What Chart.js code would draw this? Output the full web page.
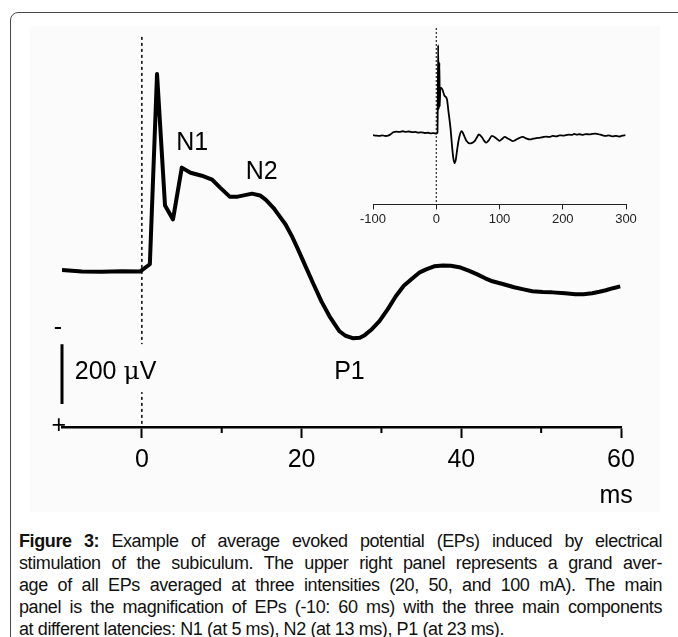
<!DOCTYPE html>
<html>
<head>
<meta charset="utf-8">
<script src="https://cdn.jsdelivr.net/npm/chart.js@4.4.1/dist/chart.umd.min.js"></script>
<style>
body { margin: 0; background: #fff; font-family: "Liberation Sans", Arial, sans-serif; }
#frame { position: absolute; left: 10px; top: 12px; width: 760px; height: 760px; border: 1.5px solid #4a4a4a; border-radius: 8px 0 0 0; }
#panel { position: absolute; left: 30px; top: 26px; width: 630px; height: 486px; background: #fbfbfb; }
#main { position: absolute; left: 0; top: 0; }
#inset { position: absolute; left: 340px; top: 0; }
#cap { position: absolute; left: 19px; top: 530px; width: 643px; font-size: 18px; letter-spacing: -0.4px; line-height: 22px; color: #111; }
#cap div { text-align: justify; text-align-last: justify; white-space: nowrap; }
#cap div.last { text-align-last: left; }
</style>
</head>
<body>
<div id="frame"></div>
<div id="panel"></div>
<canvas id="main" width="678" height="520"></canvas>
<canvas id="inset" width="320" height="240"></canvas>
<div id="cap">
<div><b>Figure 3:</b> Example of average evoked potential (EPs) induced by electrical</div>
<div>stimulation of the subiculum. The upper right panel represents a grand aver-</div>
<div>age of all EPs averaged at three intensities (20, 50, and 100 mA). The main</div>
<div>panel is the magnification of EPs (-10: 60 ms) with the three main components</div>
<div class="last">at different latencies: N1 (at 5 ms), N2 (at 13 ms), P1 (at 23 ms).</div>
</div>
<script>
Chart.defaults.font.family = '"Liberation Sans", Arial, sans-serif'
Chart.defaults.color = '#000'

// main panel: -10..60 ms, amplitude in µV (negative up)
const mainMs = [-10, -7.5, -5, -2.5, -0.2, 1.0, 1.9, 2.9, 3.9, 5.0, 6.1, 7.5, 8.8, 9.8, 11.0, 12.0,
  13.8, 14.8, 15.5, 16.5, 17.1, 18.0, 18.8, 19.5, 20.5, 21.5, 22.5, 23.5, 24.75, 25.5, 26.4, 27.3,
  27.9, 28.8, 29.75, 30.8, 31.8, 32.8, 33.9, 34.8, 35.6, 36.6, 37.7, 38.7, 39.75, 41, 42, 43, 43.9,
  45.3, 46.6, 47.8, 48.9, 50.2, 51.4, 53, 54.3, 55.3, 56.4, 57.3, 58.1, 59, 59.9]
const mainUv = [2, 7, 8, 6, 7, -17, -653, -213, -167, -340, -323, -313, -300, -273, -243, -243,
  -253, -247, -233, -205, -183, -150, -110, -70, -10, 50, 108, 157, 207, 222, 230, 229,
  220, 200, 173, 133, 90, 55, 30, 10, 0, -10, -13, -12, -7, 5, 17, 30, 40,
  50, 60, 67, 73, 76, 77, 80, 83, 83, 80, 75, 70, 63, 57]

// inset: grand average -100..300 ms
const insetMs = [-100, -95, -90, -85, -80, -75, -72, -68, -63, -58, -53, -48, -43, -38, -33, -28,
  -23, -18, -13, -8, -4, 0, 2, 3, 4, 5, 5.5, 6.5, 9.5, 13, 16.8, 19.4, 22.6, 25.3, 27, 29, 31, 32.7,
  35.9, 40, 44.8, 48, 52.7, 56, 60.6, 64, 67.5, 72.8, 76, 79.1, 83, 88, 95, 100, 104, 108, 113, 117,
  121, 125, 130, 137, 142, 148, 153, 158, 163, 168, 174, 179, 184, 190, 195, 200, 205, 210, 215,
  218, 222, 227, 232, 237, 242, 247, 252, 257, 262, 268, 273, 278, 284, 289, 294, 299]
const insetUv = [12, 15, 17, 14, 18, 13, 5, -10, -14, -12, -17, -13, -15, -10, -12, -7,
  -9, -4, -6, -2, -3, 0, -5, -650, -180, -520, -200, -338, -326, -278, -254, -159, -36, 109, 180, 217, 190, 130,
  36, -17, 24, 55, 72, 70, 56, 30, 7, 31, 55, 67, 50, 17, 36, 53, 40, 24, 36, 45,
  56, 48, 35, 24, 35, 43, 38, 33, 31, 27, 22, 25, 17, 20, 13, 15, 12, 8, 10,
  2, 8, 5, 9, 4, 6, 2, 0, 5, 12, 17, 14, 20, 17, 22, 15, 12]

const mainTicks = [0, 20, 40, 60]
const minorTicks = [10, 30, 50]
const stimMs = 0
const scaleBarUv = [250, 450]   // 200 µV bar

const pts = (xs, ys) => xs.map((x, i) => ({ x, y: ys[i] }))
const panelBg = '#fbfbfb'
const font25 = '25px "Liberation Sans", Arial, sans-serif'

const labelsPlugin = {
  id: 'labels',
  afterDatasetsDraw(chart) {
    const c = chart.ctx, x = chart.scales.x, y = chart.scales.y, bottom = chart.chartArea.bottom
    c.save()
    // minor ticks
    c.strokeStyle = '#000'; c.lineWidth = 2
    minorTicks.forEach(v => {
      const px = x.getPixelForValue(v)
      c.beginPath(); c.moveTo(px, bottom); c.lineTo(px, bottom + 6); c.stroke()
    })
    c.font = font25; c.textBaseline = 'middle'
    // box behind scale label hides the stimulus line
    c.fillStyle = panelBg
    c.fillRect(x.getPixelForValue(-8.8), y.getPixelForValue(250), 95, 48)
    c.fillStyle = '#000'
    c.textAlign = 'left'
    const sx = x.getPixelForValue(-8.4), sy = y.getPixelForValue(345)
    c.fillText('200 ', sx, sy)
    const w = c.measureText('200 ').width
    c.font = '25px "DejaVu Serif", "Liberation Serif", serif'
    c.fillText('μ', sx + w, sy)
    const w2 = c.measureText('μ').width
    c.font = font25
    c.fillText('V', sx + w + w2, sy)
    c.textAlign = 'center'
    c.fillText('N1', x.getPixelForValue(6.3), y.getPixelForValue(-423))
    c.fillText('N2', x.getPixelForValue(15), y.getPixelForValue(-326))
    c.fillText('P1', x.getPixelForValue(26), y.getPixelForValue(343))
    c.fillText('-', x.getPixelForValue(-10.5), y.getPixelForValue(196))
    c.fillText('+', x.getPixelForValue(-10.4), y.getPixelForValue(525))
    c.fillText('ms', x.getPixelForValue(59.4), bottom + 69)
    c.restore()
  }
}

new Chart(document.getElementById('main'), {
  type: 'line',
  data: {
    datasets: [
      { data: pts(mainMs, mainUv), borderColor: '#000', borderWidth: 4, pointRadius: 0, tension: 0, borderJoinStyle: 'round' },
      { data: [{ x: stimMs, y: -777 }, { x: stimMs, y: 527 }], borderColor: '#000', borderWidth: 1.5, borderDash: [3, 3], pointRadius: 0 },
      { data: [{ x: -10, y: scaleBarUv[0] }, { x: -10, y: scaleBarUv[1] }], borderColor: '#000', borderWidth: 3, pointRadius: 0, clip: false }
    ]
  },
  options: {
    responsive: false, animation: false, devicePixelRatio: 1,
    layout: { padding: { left: 62, right: 57, top: 30, bottom: 38 } },
    plugins: { legend: { display: false }, tooltip: { enabled: false } },
    scales: {
      x: {
        type: 'linear', min: -10, max: 60,
        border: { color: '#000', width: 2.5 },
        grid: { drawOnChartArea: false, tickLength: 11, tickWidth: 2,
          tickColor: c => mainTicks.includes(c.tick.value) ? '#000' : 'rgba(0,0,0,0)' },
        ticks: { stepSize: 10, padding: 7, font: { size: 25 }, color: '#000', maxRotation: 0,
          callback: v => mainTicks.includes(v) ? v : '' }
      },
      y: { display: false, reverse: true, min: -800, max: 527 }
    }
  },
  plugins: [labelsPlugin]
})

new Chart(document.getElementById('inset'), {
  type: 'line',
  data: {
    datasets: [
      { data: pts(insetMs, insetUv), borderColor: '#000', borderWidth: 1.8, pointRadius: 0, cubicInterpolationMode: 'monotone' },
      { data: [{ x: 0, y: -775 }, { x: 0, y: 520 }], borderColor: '#000', borderWidth: 1, borderDash: [2, 2], pointRadius: 0 }
    ]
  },
  options: {
    responsive: false, animation: false, devicePixelRatio: 1,
    layout: { padding: { left: 33, right: 34, top: 28, bottom: 11 } },
    plugins: { legend: { display: false }, tooltip: { enabled: false } },
    scales: {
      x: {
        type: 'linear', min: -100, max: 300,
        border: { color: '#222', width: 1 },
        grid: { drawOnChartArea: false, tickLength: 5, tickWidth: 1, tickColor: '#222' },
        ticks: { stepSize: 100, padding: 2, font: { size: 13 }, color: '#222', maxRotation: 0 }
      },
      y: { display: false, reverse: true, min: -775, max: 520 }
    }
  }
})
</script>
</body>
</html>
